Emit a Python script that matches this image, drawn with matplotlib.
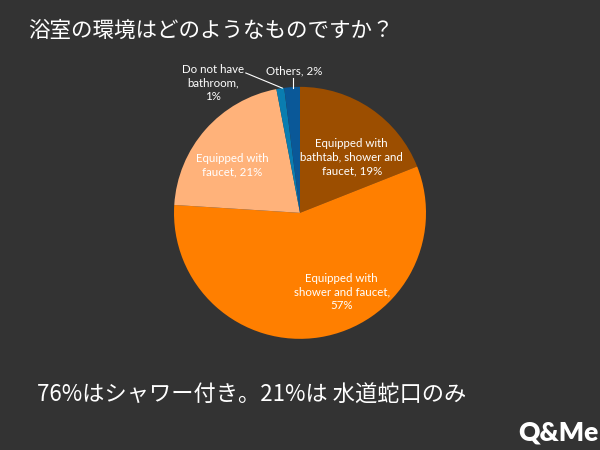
import matplotlib.pyplot as plt

plt.rcParams['font.family'] = ['Noto Sans CJK JP', 'DejaVu Sans']

# Slice data, clockwise from the top
labels = ['Equipped with\nbathtab, shower and\nfaucet, 19%',
          'Equipped with\nshower and faucet,\n57%',
          'Equipped with\nfaucet, 21%',
          'Do not have\nbathroom,\n1%',
          'Others, 2%']
values = [19, 57, 21, 1, 2]
colors = ['#9C4E00', '#FF7F00', '#FFB27A', '#0A7DB0', '#0A5898']

title = '浴室の環境はどのようなものですか？'
note = '76%はシャワー付き。21%は 水道蛇口のみ'

bg = '#333333'
fig = plt.figure(figsize=(6, 4.5), dpi=100, facecolor=bg)
ax = fig.add_axes([0.5 - 0.21, 0.527 - 0.28, 0.42, 0.56])
ax.set_facecolor(bg)

ax.pie(values, colors=colors, startangle=90, counterclock=False,
       radius=1, wedgeprops=dict(linewidth=0))
ax.set_xlim(-1, 1)
ax.set_ylim(-1, 1)
ax.set_aspect('equal')
ax.axis('off')

# label positions (in pie radius units)
pos = [(0.41, 0.44), (0.33, -0.63), (-0.54, 0.38), (-0.69, 1.03), (-0.05, 1.13)]
for lab, (x, y) in zip(labels, pos):
    ax.text(x, y, lab, ha='center', va='center', color='white',
            fontsize=8.3, family=['Lato', 'DejaVu Sans'], linespacing=1.3,
            clip_on=False)

# leader lines for the small slices
ax.plot([-0.43, -0.14], [1.11, 0.99], color='white', lw=0.8, clip_on=False)
ax.plot([-0.055, -0.055], [1.07, 0.99], color='white', lw=0.8, clip_on=False)

fig.text(0.047, 0.932, title, color='white', fontsize=15.5, va='center', ha='left')
fig.text(0.062, 0.122, note, color='white', fontsize=16, va='center', ha='left')
fig.text(0.997, 0.04, 'Q&Me', color='white', fontsize=19, fontweight='heavy',
         family=['Lato', 'DejaVu Sans'], ha='right', va='center')

fig.savefig('out.png', dpi=100, facecolor=bg)
